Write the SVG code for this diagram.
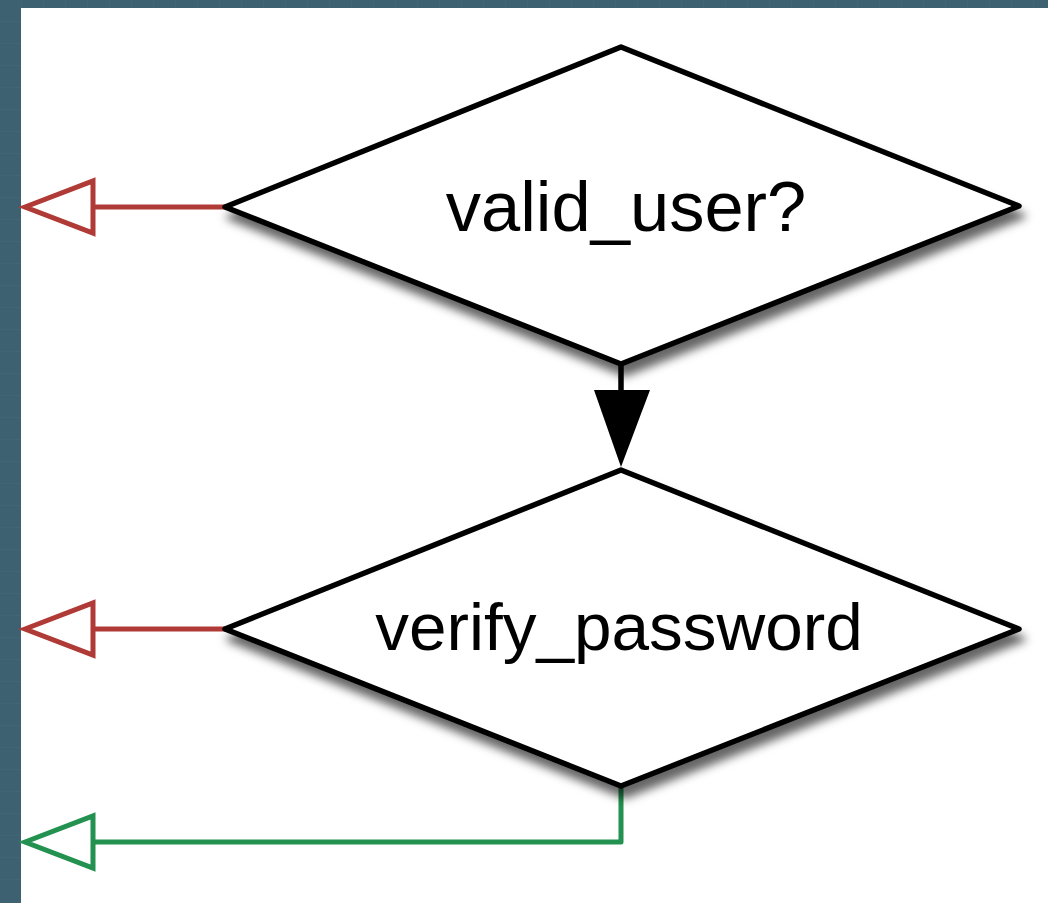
<svg xmlns="http://www.w3.org/2000/svg" width="1048" height="903" viewBox="0 0 1048 903">
  <style>
    .node { fill: #ffffff; stroke: #000000; stroke-width: 5.5; stroke-linejoin: round; }
    .label { font-family: "Liberation Sans", Arial, sans-serif; fill: #000000; text-anchor: middle; }
    .fail { fill: none; stroke: #b03a36; stroke-width: 5; }
    .pass { fill: none; stroke: #23914f; stroke-width: 5; stroke-linejoin: round; }
    .head-fail { fill: #ffffff; stroke: #b03a36; stroke-width: 5; }
    .head-pass { fill: #ffffff; stroke: #23914f; stroke-width: 5; }
  </style>
  <defs>
    <pattern id="grid" width="22" height="22" patternUnits="userSpaceOnUse">
      <path d="M22 0 V22 M0 22 H22" fill="none" stroke="#4c6d7b" stroke-width="1" opacity="0.5"/>
    </pattern>
    <filter id="shadow" x="-10%" y="-10%" width="130%" height="140%">
      <feDropShadow dx="4" dy="10" stdDeviation="5" flood-color="#000000" flood-opacity="0.6"/>
    </filter>
  </defs>

  <!-- backdrop and canvas -->
  <rect x="0" y="0" width="1048" height="903" fill="#3e6171"/>
  <rect x="0" y="0" width="1048" height="903" fill="url(#grid)"/>
  <rect x="21" y="8" width="1027" height="895" fill="#ffffff"/>

  <!-- connectors -->
  <g id="connectors">
    <!-- valid_user? -> verify_password -->
    <line x1="621" y1="364" x2="621" y2="392" stroke="#000000" stroke-width="5.5"/>
    <polygon points="594,390 650,390 621,467" fill="#000000"/>
    <!-- valid_user? failure exit -->
    <line class="fail" x1="93" y1="207" x2="225" y2="207"/>
    <polygon class="head-fail" points="25,207 93,181 93,233"/>
    <!-- verify_password failure exit -->
    <line class="fail" x1="93" y1="629" x2="225" y2="629"/>
    <polygon class="head-fail" points="25,629 93,603 93,655"/>
    <!-- verify_password success exit -->
    <path class="pass" d="M621 786 V842 H93"/>
    <polygon class="head-pass" points="25,842 93,816 93,868"/>
  </g>

  <!-- decision nodes -->
  <g id="valid_user">
    <polygon class="node" filter="url(#shadow)" points="621,47 1019,206 621,364 225,207"/>
    <text class="label" x="626" y="231" style="font-size:70.5px">valid_user?</text>
  </g>
  <g id="verify_password">
    <polygon class="node" filter="url(#shadow)" points="621,470 1019,629 621,786 225,629"/>
    <text class="label" x="619" y="650" style="font-size:67.5px">verify_password</text>
  </g>
</svg>
